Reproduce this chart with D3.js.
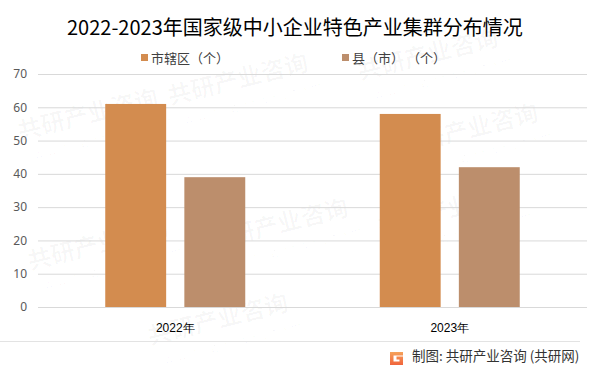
<!DOCTYPE html>
<html>
<head>
<meta charset="utf-8">
<script src="https://cdn.jsdelivr.net/npm/d3@7/dist/d3.min.js"></script>
<style>
  html, body { margin: 0; padding: 0; background: #fff; }
  svg { display: block; font-family: "Noto Sans CJK SC", "Noto Sans", sans-serif; }
</style>
</head>
<body>
<div id="chart"></div>
<script>
var categories = ["2022年", "2023年"];
var seriesNames = ["市辖区（个）", "县（市） （个）"];
var districtValues = [61, 58];
var countyValues = [39, 42];
var yTicks = [0, 10, 20, 30, 40, 50, 60, 70];
var colors = ["#D38C4F", "#BC8E6C"];

var width = 597;
var height = 370;

var margin = {
   top: 74,
   left: 38,
   bottom: 63,
   right: 10
};

var adjustedWidth = width - margin.left - margin.right;
var adjustedHeight = height - margin.top - margin.bottom;

var svg = d3.select("#chart")
   .append("svg")
   .attr("width", width)
   .attr("height", height);

// faint watermark, kept inside the canvas
var wm = svg.append("g").attr("class", "watermark");
var wmPos = [[20, 140], [170, 105], [360, 80], [400, 155], [30, 270], [210, 250], [380, 235], [150, 345]];
wmPos.forEach(function (p) {
   var g = wm.append("g")
      .attr("transform", "translate(" + p[0] + "," + p[1] + ") rotate(-14)");
   g.append("text")
      .attr("font-size", 24)
      .attr("font-weight", "bold")
      .attr("fill", "#000")
      .attr("fill-opacity", 0.03)
      .text("共研产业咨询");
   g.append("text")
      .attr("y", 22)
      .attr("x", 10)
      .attr("font-size", 12)
      .attr("letter-spacing", 4)
      .attr("fill", "#000")
      .attr("fill-opacity", 0.03)
      .text("www.gonyn.com");
});

var xScale = d3.scaleBand()
   .domain(categories)
   .range([0, adjustedWidth]);

var xInner = d3.scaleBand()
   .domain([0, 1])
   .range([0, 140])
   .paddingInner(0.23);

var yScale = d3.scaleLinear()
   .domain([0, 70])
   .range([adjustedHeight, 0]);

var focus = svg.append("g")
   .attr("transform", "translate(" + margin.left + "," + margin.top + ")");

// gridlines
var yAxis = d3.axisLeft(yScale)
   .tickValues(yTicks)
   .tickSize(-adjustedWidth)
   .tickPadding(11);

var gY = focus.append("g")
   .attr("class", "axis axis--y")
   .call(yAxis);
gY.select(".domain").remove();
gY.selectAll(".tick line")
   .attr("stroke", "#d9d9d9")
   .attr("stroke-width", 1);
gY.selectAll(".tick text")
   .attr("fill", "#595959")
   .attr("font-size", 12)
   .attr("font-family", "'Noto Sans', sans-serif");

// bars
var series = [districtValues, countyValues];
series.forEach(function (values, s) {
   focus.selectAll(".bar-" + s)
      .data(values)
      .enter().append("rect")
      .attr("class", "bar-" + s)
      .attr("x", function (d, i) { return xScale(categories[i]) + xScale.bandwidth() / 2 - 70 + xInner(s); })
      .attr("y", function (d) { return yScale(d); })
      .attr("width", xInner.bandwidth())
      .attr("height", function (d) { return adjustedHeight - yScale(d); })
      .attr("fill", colors[s]);
});

// x axis
var xAxis = d3.axisBottom(xScale)
   .tickSize(0)
   .tickPadding(16);

var gX = focus.append("g")
   .attr("class", "axis axis--x")
   .attr("transform", "translate(0," + adjustedHeight + ")")
   .call(xAxis);
gX.select(".domain").remove();
gX.selectAll(".tick text")
   .attr("fill", "#000")
   .attr("font-size", 12);

// title
svg.append("text")
   .attr("x", 67)
   .attr("y", 35)
   .attr("font-size", 20)
   .attr("fill", "#000")
   .text("2022-2023年国家级中小企业特色产业集群分布情况");

// legend
var legendX = [141, 342];
seriesNames.forEach(function (name, i) {
   svg.append("rect")
      .attr("x", legendX[i])
      .attr("y", 54)
      .attr("width", 7)
      .attr("height", 7)
      .attr("fill", colors[i]);
   svg.append("text")
      .attr("x", legendX[i] + 10)
      .attr("y", 62.5)
      .attr("font-size", 13)
      .attr("fill", "#404040")
      .attr("xml:space", "preserve")
      .style("white-space", "pre")
      .text(name);
});

// footer
svg.append("line")
   .attr("x1", 0)
   .attr("x2", 580)
   .attr("y1", 341.5)
   .attr("y2", 341.5)
   .attr("stroke", "#e3e3e3");

var grad = svg.append("defs").append("linearGradient")
   .attr("id", "logoGrad")
   .attr("x1", 0).attr("y1", 0).attr("x2", 0).attr("y2", 1);
grad.append("stop").attr("offset", "0%").attr("stop-color", "#F6A25A");
grad.append("stop").attr("offset", "100%").attr("stop-color", "#F0643C");

svg.append("path")
   .attr("d", "M390,352 h13 v3.5 h-9.5 v6 h6 v-2 h-3 v-3 h6.5 v8.5 h-13 z")
   .attr("fill", "url(#logoGrad)");

svg.append("text")
   .attr("x", 412)
   .attr("y", 361)
   .attr("font-size", 13.5)
   .attr("fill", "#333")
   .text("制图: 共研产业咨询 (共研网)");
</script>
</body>
</html>
